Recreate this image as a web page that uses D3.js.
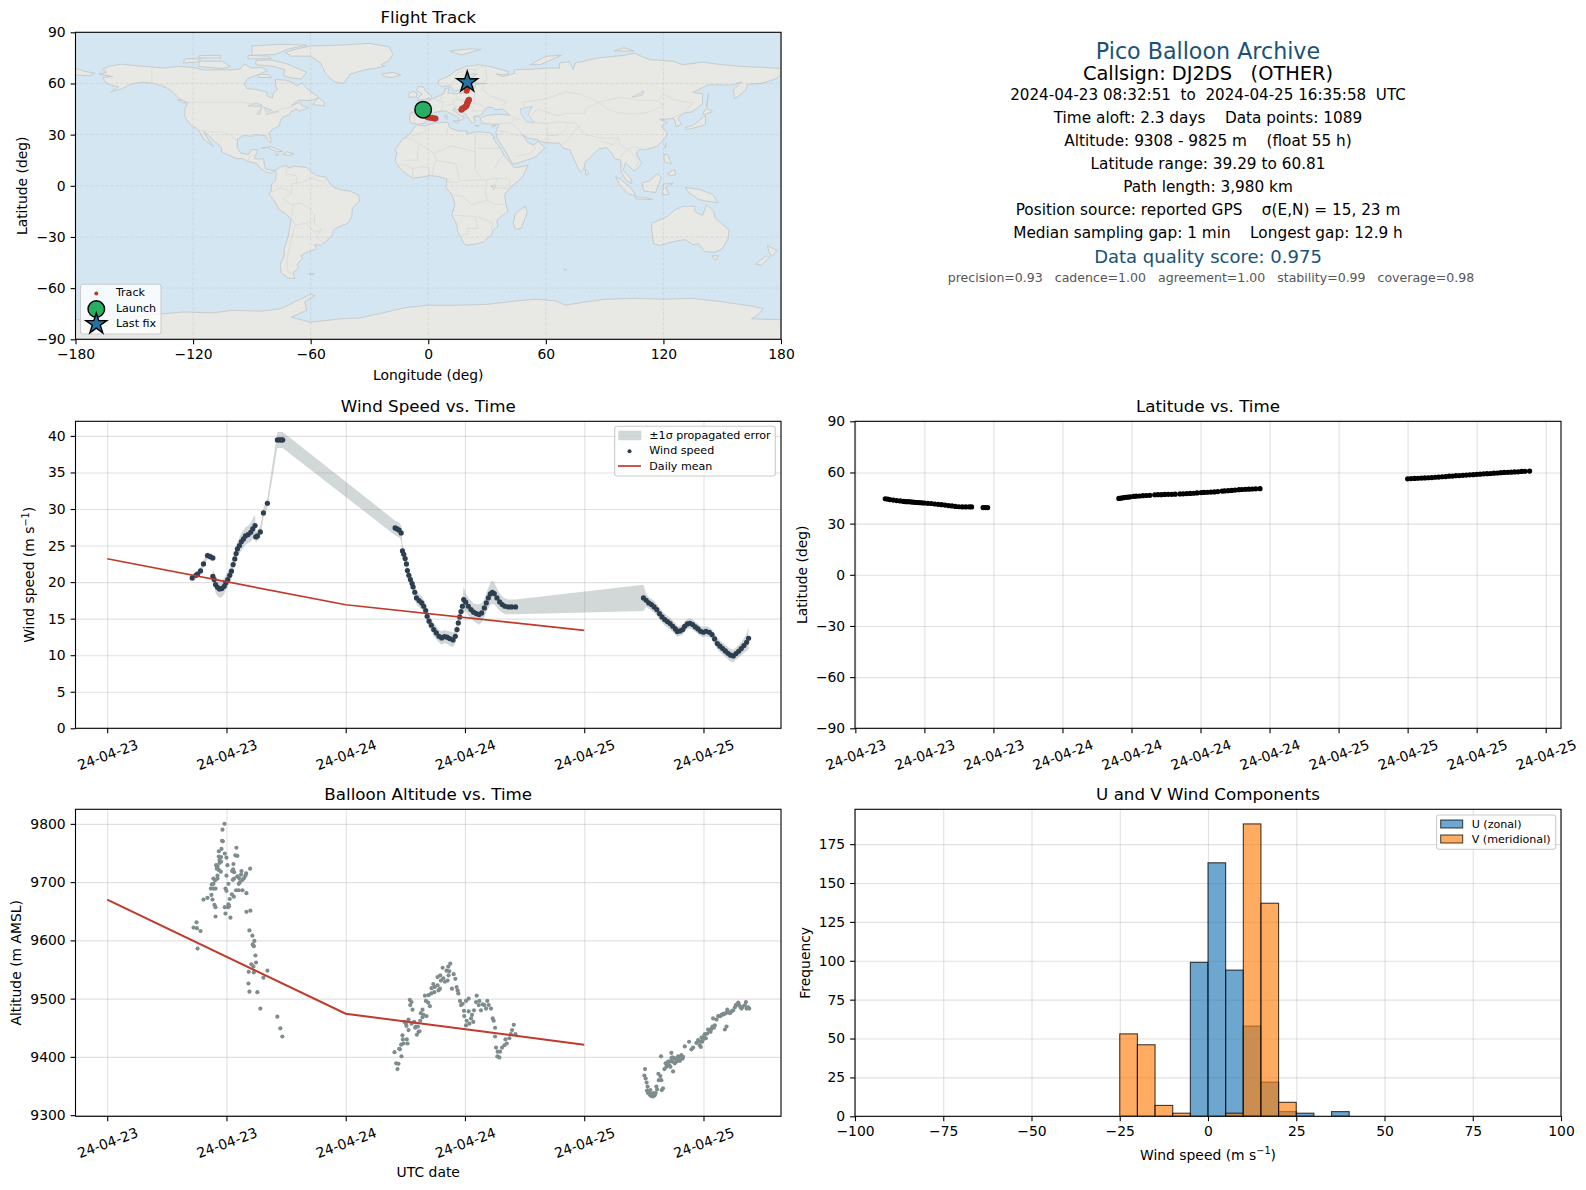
<!DOCTYPE html>
<html>
<head>
<meta charset="utf-8">
<script src="https://cdn.jsdelivr.net/npm/d3@7"></script>
<style>
  html, body { margin: 0; padding: 0; background: #fff; }
  svg { display: block; }
  text { font-family: "DejaVu Sans", sans-serif; fill: #000; }
</style>
</head>
<body>
<svg id="chart" width="1586" height="1190"></svg>
<script>
// hours are counted from 2024-04-23 00:00 UTC
const startDay = Date.UTC(2024, 3, 23);

const infoLines = [
  "Time aloft: 2.3 days    Data points: 1089",
  "Altitude: 9308 - 9825 m    (float 55 h)",
  "Latitude range: 39.29 to 60.81",
  "Path length: 3,980 km",
  "Position source: reported GPS    σ(E,N) = 15, 23 m",
  "Median sampling gap: 1 min    Longest gap: 12.9 h"
];

const meanHours = [0, 24, 48];
const meanWind = [23.2, 16.9, 13.4];
const meanAlt = [9670, 9474, 9421];

const windHours = [
  8.55,8.95,9.09,9.39,9.69,10.09,10.36,10.63,
  10.63,10.76,10.90,11.10,11.30,11.53,11.77,11.93,12.13,12.33,12.50,12.67,12.84,12.97,13.10,13.31,13.51,13.71,13.91,14.18,14.44,14.64,14.88,
  14.95,15.11,15.41,15.72,16.12,17.12,17.32,17.52,17.66,
  28.97,29.17,29.38,29.58,
  29.71,29.84,29.98,30.11,30.21,30.35,30.51,30.68,30.78,30.95,31.12,31.38,31.65,31.85,32.05,32.19,32.39,32.62,32.86,33.12,33.39,33.66,33.93,34.2,34.46,34.8,35.03,35.2,35.33,35.47,35.6,35.74,35.87,
  36.07,36.34,36.61,36.87,37.14,37.41,37.68,37.95,38.15,38.35,38.55,38.75,38.95,39.22,39.49,39.75,40.02,40.36,40.69,41.09,
  53.96,54.23,54.49,54.76,55.03,55.3,55.57,55.83,56.1,56.37,56.64,56.91,57.17,57.37,57.64,57.91,58.11,58.38,58.65,58.91,59.18,59.45,59.72,59.99,60.25,60.59,60.86,61.12,61.39,61.66,61.93,62.2,62.46,62.73,63.0,63.27,63.54,63.8,64.07,64.34,64.54
];
const windSpeed = [
  20.57,20.94,21.08,21.53,22.49,23.63,23.49,23.31,
  20.8,20.35,19.66,19.3,19.07,19.12,19.43,19.89,20.35,20.94,21.49,22.4,23.17,23.9,24.54,25,25.54,25.91,26.32,26.5,26.82,27.28,27.73,
  26.18,26.32,26.87,29.47,30.79,39.45,39.45,39.45,39.45,
  27.41,27.28,27.1,26.73,
  24.27,23.81,23.22,22.49,21.58,20.94,20.35,19.8,19.34,18.61,17.84,17.47,17.15,16.7,16.11,15.33,14.65,14.1,13.51,13.05,12.59,12.37,12.55,12.46,12.28,12.09,12.59,13.51,14.42,15.24,15.97,16.7,17.61,
  17.25,16.7,16.24,15.88,15.7,15.56,15.79,16.47,17.15,17.84,18.39,18.61,18.43,17.84,17.29,16.93,16.7,16.61,16.61,16.61,
  17.84,17.52,17.15,16.93,16.61,16.24,15.7,15.24,14.87,14.6,14.33,13.96,13.6,13.23,13.32,13.51,13.96,14.28,14.37,14.19,13.87,13.6,13.28,13.14,13.28,13.14,12.82,12.23,11.59,11.23,10.91,10.59,10.27,10.0,9.9,10.22,10.54,10.91,11.32,11.77,12.32
];
const windSigma = [
  .5,.5,.5,.5,.5,.5,.5,.5,
  .9,1,1.1,1.2,1.2,1.2,1.1,1,1,1,1,1,1,1,1,1.1,1.2,1.2,1.2,1.2,1.3,1.4,1.5,
  .8,.7,.8,.7,.7,1.1,1.1,1.1,1.1,
  1,1,1,1.1,
  .9,.9,.9,.9,.9,.9,.9,.9,.9,.9,.9,.9,.9,.9,.9,.9,.9,.9,.9,.9,.9,.9,.9,.9,1,1,.9,.8,.8,.8,.9,1.1,1.8,
  1.2,1.2,1.2,1.2,1.3,1.4,1.3,1.2,1.3,1.4,1.5,1.6,1.5,1.3,1.2,1.1,1.1,1,1,1,
  1.8,.9,.8,.8,.8,.8,.8,.8,.8,.8,.8,.8,.8,.7,.7,.7,.7,.7,.7,.7,.7,.7,.7,.7,.7,.7,.7,.7,.8,.8,.8,.8,.85,.85,.85,.85,.85,.9,1,1.2,1.5
];

const latHours = [
  8.6,8.8,9.0,9.3,9.6,9.9,10.2,10.4,10.6,10.8,11.0,11.2,11.4,11.6,11.8,12.0,12.3,12.6,12.9,13.2,13.5,13.8,14.1,14.4,14.7,15.0,15.3,15.6,15.9,16.1,17.1,17.3,17.5,
  28.9,29.09,29.3,29.5,29.7,29.9,30.19,30.4,30.7,31.0,31.3,31.6,32.02,32.3,32.6,32.9,33.2,33.5,33.8,34.22,34.5,34.8,35.1,35.4,35.7,36.05,36.3,36.6,36.9,37.2,37.5,37.88,38.1,38.4,38.7,39.0,39.34,39.6,39.9,40.2,40.5,40.8,41.17,
  54.0,54.3,54.6,54.9,55.2,55.5,55.8,56.1,56.4,56.7,57.0,57.3,57.6,57.9,58.2,58.5,58.8,59.1,59.4,59.7,60.0,60.3,60.6,60.9,61.2,61.5,61.8,62.1,62.4,62.7,63.0,63.3,63.6,63.9,64.2,64.6
];
const latValues = [
  44.6,44.4,44.1,43.8,43.5,43.3,43.0,42.9,42.9,42.8,42.6,42.5,42.4,42.3,42.2,42.1,41.9,41.8,41.5,41.3,41.1,40.9,40.6,40.4,40.1,39.9,39.8,39.8,39.8,39.8,39.4,39.4,39.4,
  44.8,44.9,45.2,45.4,45.5,45.7,46.0,46.1,46.2,46.4,46.5,46.6,46.9,47.0,47.0,47.1,47.2,47.2,47.3,47.4,47.5,47.6,47.7,47.8,48.0,48.2,48.3,48.4,48.5,48.6,48.8,49.1,49.2,49.3,49.5,49.7,49.9,50.0,50.1,50.2,50.3,50.4,50.5,
  56.3,56.4,56.5,56.6,56.7,56.8,56.9,57.0,57.2,57.3,57.5,57.6,57.8,57.9,58.1,58.2,58.3,58.5,58.6,58.7,58.9,59.0,59.2,59.3,59.4,59.6,59.7,59.9,60.0,60.1,60.2,60.3,60.4,60.6,60.7,60.8
];

const altHours = [
  8.69,8.99,9.02,9.39,9.09,9.69,10.09,10.49,10.59,10.79,10.9,10.9,10.43,10.69,10.9,10.53,10.69,10.86,10.69,11.1,11.1,11.03,10.96,11.1,11.23,11.43,11.3,11.46,11.3,11.23,11.46,11.23,11.5,11.83,12.0,12.1,11.63,11.56,11.6,11.8,
  11.83,12.17,12.27,12.2,12.33,12.54,12.74,11.9,12.0,12.2,12.0,12.64,12.77,12.57,12.67,12.77,12.7,12.9,13.1,13.0,12.97,13.24,13.61,14.01,13.24,13.37,13.61,13.77,13.98,13.91,13.51,13.47,13.1,13.27,14.38,11.9,12.4,14.01,14.41,
  14.31,14.61,14.81,14.64,14.75,14.91,14.51,14.98,14.71,14.24,14.75,16.12,15.72,14.21,14.31,15.11,15.41,17.12,17.42,17.62,
  28.91,29.08,29.31,29.21,29.61,29.45,29.38,29.58,29.71,29.75,29.82,30.15,30.22,30.05,30.12,30.32,29.92,30.32,30.62,30.89,31.06,31.33,31.16,31.43,31.26,30.99,30.45,30.62,30.49,30.72,31.5,31.73,31.56,31.73,32.13,31.83,
  31.97,32.07,32.3,32.47,32.34,32.61,32.91,32.64,32.97,33.24,33.48,33.34,32.81,33.24,33.51,33.75,33.82,33.58,33.98,34.25,34.35,34.15,34.32,34.52,34.42,34.86,35.03,34.69,35.16,35.33,35.26,35.5,35.76,35.6,36.37,36.1,35.9,36.37,35.93,36.17,36.61,36.91,36.71,36.1,36.44,36.84,
  37.18,37.11,37.45,37.38,37.61,37.95,38.25,38.39,38.62,38.12,37.78,38.79,38.89,39.03,39.03,39.13,39.29,39.46,39.26,39.53,39.73,39.97,40.2,40.07,40.47,40.61,40.74,40.91,41.08,
  54.12,54.05,54.18,54.28,54.38,54.32,54.42,54.59,54.92,55.09,55.26,55.19,55.33,55.5,55.76,55.46,55.66,55.93,55.8,55.73,56.07,56.27,56.44,56.61,56.77,56.87,57.11,57.28,56.94,57.45,57.61,57.88,58.12,57.95,
  58.55,58.79,58.96,59.29,59.46,59.73,59.63,59.8,60.07,60.24,60.47,60.71,60.91,61.14,60.97,61.31,62.15,62.32,61.58,61.82,62.05,62.39,62.66,62.99,63.26,63.5,63.73,63.93,64.27,64.34,64.6,
  56.2,56.44,56.67,56.87,57.07,57.28,57.55,57.78,56.77,56.57,
  59.63,59.87,59.97,60.14,60.37,60.57,60.81,61.04,
  61.48,61.71,61.98,62.25,62.49,62.82,63.16,63.39,63.59,63.83,64.17,64.5,
  54.52,54.72,54.82,54.99,54.66
];
const altMeters = [
  9622,9631,9621,9616,9586,9670,9673,9678,9670,9661,9657,9641,9689,9689,9689,9696,9697,9703,9706,9706,9711,9723,9729,9727,9721,9718,9733,9735,9738,9744,9743,9753,9757,9749,9742,9729,9770,9771,9790,9800,
  9657,9657,9659,9662,9671,9679,9675,9689,9685,9697,9711,9704,9706,9719,9722,9717,9731,9746,9745,9759,9686,9686,9686,9681,9697,9700,9704,9707,9715,9711,9719,9713,9710,9707,9723,9646,9639,9649,9651,
  9617,9608,9599,9593,9590,9574,9559,9562,9555,9546,9545,9548,9536,9526,9512,9511,9483,9469,9449,9435,
  9408,9389,9388,9379,9401,9413,9414,9421,9437,9430,9423,9430,9423,9457,9453,9446,9460,9464,9457,9460,9452,9443,9438,9444,9452,9450,9498,9494,9489,9481,9462,9468,9475,9481,9470,9472,
  9505,9496,9493,9487,9506,9509,9511,9518,9520,9523,9517,9514,9525,9537,9540,9553,9535,9531,9529,9531,9540,9548,9555,9560,9547,9542,9534,9517,9520,9509,9514,9496,9491,9489,9500,9496,9479,9478,9470,9462,9466,9480,9472,9454,9457,9460,
  9505,9494,9496,9489,9480,9489,9496,9489,9483,9483,9490,9466,9462,9450,9435,9416,9409,9399,9401,9409,9416,9420,9423,9430,9432,9439,9446,9455,9439,
  9379,9368,9363,9356,9349,9342,9338,9335,9332,9334,9349,9338,9344,9360,9360,9371,9367,9346,9343,9401,9379,9383,9386,9392,9407,9399,9389,9396,9375,9401,9393,9397,9418,9400,
  9426,9413,9416,9424,9429,9417,9426,9433,9436,9432,9447,9443,9452,9454,9466,9464,9447,9452,9470,9472,9473,9481,9475,9480,9489,9493,9485,9486,9494,9483,9483,
  9389,9392,9383,9392,9398,9392,9398,9403,9398,9385,
  9420,9426,9430,9439,9440,9446,9448,9450,
  9470,9470,9474,9475,9477,9478,9485,9490,9489,9483,9489,9485,
  9339,9333,9336,9338,9343
];

const histEdges = [-25,-20,-15,-10,-5,0,5,10,15,20,25,30,35,40];
const histU = [0,0,0,0,99,163,94,58,22,3,2,0,3];
const histV = [53,46,7,2,0,0,2,188,137,9,0,0,0];

const trackLon = [-2.6,-2.3,-2,-1.7,-1.4,-1.1,-0.9,-0.5,0.3,1.2,2.2,3,3.7,
  16.9,17.3,17.8,18.4,19,19.5,19.7,19.9,20,20.2,20.5,20.8,
  19.6,19.7,19.9,19.9];
const trackLat = [44.6,44,43.3,42.8,42.1,41.4,40.8,40.3,40,39.9,39.8,39.5,39.4,
  44.6,45.2,45.5,45.9,46.4,47,47.6,48.2,48.8,49.3,50,50.5,
  55.7,56.8,57.4,58];
const launchFix = [-2.6, 44.6];
const lastFix = [19.9, 60.8];

// coarse coastlines, lon/lat
const land = [
  [[-168,65.5],[-164,66.5],[-166,68.5],[-162,70.3],[-156,71.3],[-150,70.5],[-141,69.7],[-135,69],[-128,70],[-120,69.5],[-115,68],[-108,68],[-100,68],[-96,68.5],[-94,71.5],[-90,69],[-85,69.5],[-82,67.5],[-87,65],[-92,63],[-94,60],[-92.5,57],[-88,56.5],[-82.5,55],[-82,52.5],[-79.5,51.5],[-79,54.5],[-77,56.5],[-78,59],[-78,62.3],[-73,62],[-70,61],[-67,58.5],[-64.5,60.3],[-61.5,56.5],[-57,53],[-56,51.5],[-60,50],[-66,50.2],[-70,47],[-65,49],[-64.5,47],[-61,46],[-64,44.5],[-66,43.7],[-67,45],[-70,43.5],[-70.5,41.7],[-74,40.5],[-75.5,38],[-76,35],[-79,33.5],[-81.3,31],[-80.2,27],[-80.5,25.2],[-82,27],[-83,29.3],[-85,29.7],[-89,30],[-90,29],[-94,29.5],[-97.3,27.5],[-97.5,22.5],[-95.5,19],[-91.5,18.5],[-90.5,21],[-87,21.5],[-88,18],[-88.7,15.8],[-84,15.8],[-83.5,12],[-83,10],[-80,9],[-78,9.3],[-79.5,7.5],[-81,7.5],[-83,8.3],[-85.5,10],[-87.5,13],[-92,14.3],[-95,16],[-98,16],[-102,18],[-105.5,20],[-105.5,22.5],[-109,26],[-112.5,30],[-114.7,31.7],[-113,28.5],[-111,25],[-109.5,23],[-112,25],[-115,28],[-116.7,31.7],[-118.5,34],[-120.7,35],[-122.5,37.5],[-124.3,40.3],[-124,46],[-122.5,48.5],[-127,51],[-130,54.5],[-133.5,57.5],[-137,58.7],[-140,60],[-146,60.8],[-152,59.5],[-156,57],[-162,55],[-158,58],[-162,59],[-165,61],[-166,63.5],[-161,64],[-168,65.5]],
  [[-73,78.2],[-68,80],[-60,82],[-45,82.5],[-30,83.5],[-20,81.5],[-18,77],[-20,73.5],[-24,71],[-22,70],[-32,68],[-40,65.5],[-43,60],[-48,61],[-52,65],[-54,69.5],[-55,72],[-60,76],[-70,76]],
  [[-80,73.7],[-72,71.5],[-67,69],[-62,66.5],[-65,62.5],[-71,63.5],[-74,65],[-73,68],[-79,70],[-88,71],[-88,73.5]],
  [[-117,70],[-105,68.7],[-101,70],[-105,73],[-117,73]],
  [[-90,76.5],[-78,77],[-72,80],[-62,82.5],[-75,83],[-90,82]],
  [[-125,72],[-118,72.5],[-116,74.5],[-124,74.5]],
  [[-92,74.5],[-80,74.5],[-82,76],[-92,76.5]],
  [[-117,75],[-106,75],[-106,76.5],[-117,76.3]],
  [[-59,47.7],[-53,46.7],[-53,49],[-56,51.5]],
  [[-87,63.5],[-80,63.5],[-81,65],[-86,65.5]],
  [[-128,50.5],[-125,50],[-123.5,48.5],[-126,49]],
  [[-85,22],[-80,23],[-74.3,20.2],[-77.5,19.9],[-82,22.5]],
  [[-74,18.5],[-72,20],[-68.5,18.7],[-71.5,17.8]],
  [[-78,18.5],[-76.3,18.2],[-77.5,17.8]],
  [[-78,9],[-75.5,11],[-72,12],[-71.5,10.5],[-68,11.5],[-62,10.7],[-60,8.5],[-57,6],[-52,5],[-50,1],[-48,-1],[-44,-2.5],[-40,-3],[-35.5,-5.5],[-35,-9],[-38.7,-13],[-39,-18],[-41,-22],[-45,-23.7],[-48.5,-26],[-48.7,-28.5],[-52,-32.5],[-54.5,-34.8],[-58,-34.5],[-57,-37],[-62,-39],[-65,-41],[-64,-42.5],[-67,-46],[-66,-48],[-69,-51],[-68,-54.5],[-71.5,-54],[-75,-51],[-75.5,-46],[-73.5,-41],[-73.5,-37],[-71.5,-30],[-70,-20],[-72,-17],[-76,-14],[-79,-8],[-81.3,-5],[-80,-2.5],[-80,1],[-78,3],[-77.5,7]],
  [[-61,-51.5],[-58,-51.5],[-59.5,-52.4]],
  [[-6,35.8],[-2,35],[3,36.8],[10,37.3],[11,34],[15,32.3],[20,32],[19.5,30.5],[25,31.7],[32,31],[34,28],[33,28],[35.5,24],[37.2,21],[38.5,18],[43,12],[44,10.5],[51,12],[48,5],[42,-1],[39,-5],[39.5,-10],[40.7,-15],[35,-20],[35.5,-24],[33,-26],[32.5,-28.5],[28,-33],[25,-34],[20,-34.8],[18.3,-34],[15,-27],[14.5,-22.5],[12,-17],[13.7,-11],[12,-5],[9,-1],[9.5,4],[5,5.5],[1,6],[-4,5],[-8,4.5],[-13,8.5],[-15,11],[-17,14.7],[-16,19],[-17,21],[-13,27.5],[-9.7,30]],
  [[49.5,-12],[50.5,-15.5],[47.5,-25],[44.5,-25.5],[43.3,-22],[44.5,-16]],
  [[-9,37],[-9.5,39],[-9,43],[-2,43.5],[-1,46],[-4.5,48.3],[-1.5,48.7],[2,51],[4,52],[8,54],[8.5,57],[10.7,57.5],[10,54.5],[14,54],[19,54.5],[21,57],[24,58],[24,59.5],[30,60],[25,60.2],[22,60.5],[21.5,63],[25,65.5],[22,65.7],[17.5,62],[17.5,60],[16.5,56.5],[13,55.5],[11,59],[7,58],[5,60],[5.5,62],[10,64],[14,67.5],[19,70],[26,71],[31,70],[41,67],[40,65],[34.5,65.5],[38,64],[44,66],[44,68],[54,68.5],[60,69],[67,69],[67,72],[72,72.8],[74,68],[75,72],[81,73.5],[87,75],[100,76.5],[105,77.7],[113,74],[125,73],[130,71],[140,72.5],[150,71],[160,70],[170,69.5],[180,68.8],[180,65],[177,62.5],[170,60],[163,59.5],[162,56],[156.5,51],[155.5,56],[160,61],[155,59],[143,59.3],[135,54.7],[140,54],[140,48],[135,43.5],[130,42.5],[127.5,39.5],[129.3,36],[126.5,34.5],[126,37.5],[125,39.7],[121.5,39],[118,39],[122,37],[119,35],[122,31],[121,28],[116.5,23],[110,21],[108,21.5],[106,19],[109,13],[107,10.5],[105,8.7],[103,11],[100.5,13.5],[99.5,9],[103.5,4],[104,1.3],[101,3],[98.5,8],[98,15],[95,16],[94,18.5],[91,22.5],[87,21.5],[82,16],[80,14],[79.5,10],[77.5,8],[73,19],[72.5,21],[69,22],[67,25],[61,25.2],[57,26],[56,27],[51,28],[48,30],[50,26.5],[51.5,25],[54,24],[56,26],[59.5,22.5],[55,17],[45,13],[43,13],[39,21],[35,28],[34.5,31.5],[36,36],[32,36.2],[27.5,36.7],[26.5,39.5],[29,41],[35,42],[41.5,41.5],[38,45],[34,44.5],[33,46],[30,46],[28,43],[26,40.7],[23,40.5],[24,38],[22.5,36.5],[19.5,41],[19,42],[13.5,45.5],[12.5,44.5],[16,41.5],[18.5,40],[16,38],[15.5,40],[10.5,43],[8,44],[3,43],[0,39.5],[-2,36.7],[-5.5,36]],
  [[-180,68.8],[-175,67],[-170,66],[-173,64.5],[-180,65]],
  [[114,-22],[122,-18],[126,-14],[130,-12],[136,-12],[136,-15],[140,-17.5],[142,-11],[145.5,-15],[146.5,-19],[150,-22.5],[153.5,-26],[153,-31],[150,-37],[146,-39],[141,-38.5],[138,-34],[135,-34.5],[131,-31.5],[124,-33],[118,-35],[115,-34],[114,-26]],
  [[145,-41],[148,-41],[147,-43.5],[145.5,-42.5]],
  [[173,-35],[178,-38],[175,-41.5],[174,-39]],
  [[172.5,-41],[174,-42],[170,-46.5],[167,-46]],
  [[131,-1],[138,-2],[145,-5],[148,-10],[142,-9],[138,-8],[133,-4]],
  [[109,1.5],[113,3],[117,7],[119,5],[117.5,0.5],[116,-4],[110,-3]],
  [[95.5,5.5],[98,4],[104,-2],[106,-6],[102,-4.5],[98,0]],
  [[105.5,-6.5],[110,-6.7],[114.5,-8],[106,-7.7]],
  [[119.5,-5.5],[120,1],[125,1.5],[121,-1],[123,-5]],
  [[120.3,18.5],[122.2,18],[124,12.8],[120.5,14]],
  [[122,7],[125.5,9.7],[126.5,6.5],[124,6]],
  [[131,34],[136,36],[140,40],[141.5,41],[141.5,36],[136,34],[132,33]],
  [[140,42],[142,45.5],[145,43.5],[141,41.8]],
  [[142,46],[143,54],[142.5,50]],
  [[120.5,23],[121.5,25],[121,22]],
  [[80,9.7],[82,7.5],[80.5,6]],
  [[-5.5,50],[1.5,51.5],[1.5,53],[-1.5,55.5],[-2,57.5],[-5,58.5],[-6,56],[-3,54],[-5,52]],
  [[-10,52],[-6,52],[-5.7,54.5],[-8,55.3],[-10,54]],
  [[-24,65.5],[-18,66.5],[-14,65],[-18.5,63.5],[-22.5,64]],
  [[11,79],[21,80.3],[27,80],[17,76.7]],
  [[52,71],[57,71],[68,76.5],[60,76]],
  [[95,79],[105,79],[100,81]],
  [[12.5,38],[15.5,38.2],[15,36.7]],
  [[8.2,41],[9.7,41],[9.5,39]],
  [[23.5,35.5],[26,35.2],[24.5,34.9]],
  [[32.5,35],[34.5,35.6],[33.5,34.6]],
  [[69,-49],[70.5,-49],[70,-49.8]],
  [[-180,-90],[-180,-78.5],[-165,-78.5],[-155,-78],[-145,-76],[-125,-74],[-110,-74.5],[-100,-73],[-85,-73.5],[-75,-72],[-68,-68],[-60,-63.5],[-58,-64.5],[-63,-68],[-62,-73],[-70,-77],[-60,-80],[-45,-78],[-35,-77.5],[-25,-75],[-12,-71.5],[0,-70],[15,-70],[30,-69.5],[45,-67.5],[55,-66.5],[65,-67.5],[70,-70],[78,-68.5],[90,-66.5],[105,-66],[120,-66.5],[135,-66],[150,-68],[165,-70.5],[171,-72],[168,-76],[165,-78],[180,-78.5],[180,-90]]
];
const lakes = [
  [[47,45],[53,46.5],[51,42],[54,37],[50,37.5],[47,43]],
  [[-92,46.8],[-88,48.5],[-85,47.5],[-85,46.5]],
  [[-87.5,42],[-85,46],[-86,42]],
  [[-84,46],[-80,44.5],[-82.5,43]],
  [[-83,41.7],[-79,42.8],[-76.5,43.7],[-79.5,43.3]],
  [[32,0],[34,0.3],[33.5,-2.5]],
  [[104,52],[110,55.5],[109,53]]
];
const borders = [
  [[-141,69.7],[-141,60],[-135,59],[-130,55]],
  [[-123,49],[-95,49],[-89,48],[-83,46],[-82.5,42],[-79,43],[-75,45],[-70,46],[-67,45]],
  [[-117,32.5],[-108,31.5],[-106,31.7],[-101,29.7],[-97.3,26]],
  [[-92,14.5],[-91,17.5],[-89,18]],
  [[-51.5,4.3],[-54,2.3],[-60,5],[-64,2],[-70,1],[-69.5,-4.3],[-74,-7.5],[-70,-11],[-65,-10],[-60,-14],[-58,-17],[-58,-22],[-54.5,-25.5],[-57.5,-30],[-53.5,-33.5]],
  [[-70,-18],[-68,-23],[-70,-32],[-72,-42],[-72,-50],[-68.5,-52.5]],
  [[-69,-11],[-69.5,-17.5]],
  [[-72,12],[-72.5,7],[-67.5,6],[-67,1.5]],
  [[-80,-3.5],[-75,-1],[-70,-4]],
  [[-68,-23],[-62.5,-22],[-58,-20]],
  [[-62.5,-22],[-58,-27],[-54.5,-26]],
  [[-8.7,27.7],[-13,27.7]],
  [[-8.7,27.7],[3,19],[12,23.5],[24,20],[24,31.5]],
  [[9,30],[10,34]],
  [[-2,35],[-1,32],[-8.7,29]],
  [[3,19],[4,15],[14,13],[15,8],[16,3],[30,3.5],[35,4.5],[41.5,4]],
  [[24,20],[24,9],[27,4.5]],
  [[25,22],[37,22]],
  [[34,10],[36,15],[38.5,18]],
  [[12,4],[9.5,2.2],[16,2]],
  [[13,-5.5],[17,-6],[22,-11],[30,-8.5],[29,-1.5],[30,3.5]],
  [[12,-17.2],[24,-18],[25,-25],[20,-25],[20,-28.5],[17,-28.8]],
  [[30,-8.5],[34,-11],[40.5,-10.7]],
  [[34,-1],[41.5,-1.7],[41.5,4]],
  [[34,-1],[35,4.5]],
  [[25,-18],[33,-22],[32,-26]],
  [[-12,15],[-5.5,15],[-5,24]],
  [[2,6],[3,12],[4,15]],
  [[-8,4.5],[-8,10],[-5,11],[0,11],[1,6]],
  [[-16,12.5],[-12,12.5],[-8,10]],
  [[-9,42],[-7,42],[-7,37]],
  [[-1.8,43.3],[3,42.5]],
  [[2.5,51],[6,49.5],[8,49],[7.5,47.5],[7,44]],
  [[7,53.5],[6,50]],
  [[14,54],[15,51],[12.5,50],[13,47.7],[9.5,47.5]],
  [[15,51],[19,49.5],[24,48],[26.5,48],[29,45.5]],
  [[13,46.5],[16.5,46.5],[22,48],[22.5,44],[28.5,43.8]],
  [[23,41],[26,41.7],[28,42]],
  [[24,54.5],[23.5,50],[24,48]],
  [[24,54.5],[21,55.3]],
  [[28,59.5],[28,56],[32,52.5],[40,49.5],[38,47]],
  [[29,69.7],[30,62],[27.5,60.5]],
  [[14,65],[18.5,68.5],[24,68],[28,70]],
  [[12,59],[13,61],[14,65]],
  [[23.5,66],[24,68]],
  [[26,36],[36,36.5],[42,37],[44.5,39.5],[41.5,41.5]],
  [[36,32],[39,32],[47,29],[48,30]],
  [[42,37],[46,33],[48,30]],
  [[44.5,39.5],[48,38.5]],
  [[61,25.2],[61,31],[61,36.5],[54,37]],
  [[61,29.5],[66,29.5],[70,33],[71.5,37],[75,37]],
  [[68,24],[71,27],[74.5,32],[78,35.5]],
  [[50,45],[48,49],[60,51],[70,55],[77,54],[87,49]],
  [[53,42],[56,45],[66,41],[71,42.5],[80,42.5],[80,45],[87,49]],
  [[54,37.5],[61,36.5],[66,37.5],[71,37]],
  [[87,49],[98,52],[107,50],[117,50],[120,47],[112,43],[105,42],[96,43],[91,45.5],[87,49]],
  [[117,50],[120,53.5],[127,50],[135,48.5],[131,43]],
  [[75,37],[80,30],[88,28],[97,28],[98,24],[101.5,21.5],[106,23],[108,21.5]],
  [[125,40],[130,42.5]],
  [[126,38],[128.5,38.5]],
  [[101.5,21.5],[98,17],[99,11]],
  [[101.5,21.5],[105,18],[107.5,14.5],[106,11]],
  [[88,26],[92,25],[94,24],[97,28]],
  [[34.5,29],[39,32]],
  [[45,17],[52,19],[55,22],[52,24.5]]
];

const red = "#c0392b", navy = "#2c3e50", slate = "#7f8c8d", titleBlue = "#1a5276";
const col1 = [75.5, 781], col2 = [855, 1561];
const row1 = [32.3, 339.3], row2 = [421.3, 728.3], row3 = [809.3, 1116.3];
const tickPx = 13.9, legendPx = 11.1, labelPx = 13.9, titlePx = 16.7;

const svg = d3.select("#chart");

function panel(col, row, xScale, yScale, xTicks, yTicks, xFmt, yFmt, title, id) {
  const g = svg.append("g");
  svg.append("clipPath").attr("id", id).append("rect")
    .attr("x", col[0]).attr("y", row[0])
    .attr("width", col[1] - col[0]).attr("height", row[1] - row[0]);
  const gridX = g.append("g").attr("transform", "translate(0," + row[1] + ")")
    .call(d3.axisBottom(xScale).tickValues(xTicks).tickSize(-(row[1] - row[0])).tickFormat(""));
  const gridY = g.append("g").attr("transform", "translate(" + col[0] + ",0)")
    .call(d3.axisLeft(yScale).tickValues(yTicks).tickSize(-(col[1] - col[0])).tickFormat(""));
  gridX.select(".domain").remove();
  gridY.select(".domain").remove();
  g.selectAll("line").attr("stroke", "#b0b0b0").attr("stroke-opacity", 0.38).attr("stroke-width", 1.1);
  const plot = g.append("g").attr("clip-path", "url(#" + id + ")");
  const top = svg.append("g").attr("class", "frame");
  return {plot, top, col, row, xScale, yScale, xTicks, yTicks, xFmt, yFmt, title};
}

function finish(p, rotate) {
  const [l, r] = p.col, [t, b] = p.row;
  const top = p.top;
  top.append("rect").attr("x", l).attr("y", t).attr("width", r - l).attr("height", b - t)
    .attr("fill", "none").attr("stroke", "#000").attr("stroke-width", 1.1);
  const ax = top.append("g").attr("transform", "translate(0," + b + ")")
    .call(d3.axisBottom(p.xScale).tickValues(p.xTicks).tickSize(4.9).tickPadding(4.9).tickFormat(p.xFmt));
  const ay = top.append("g").attr("transform", "translate(" + l + ",0)")
    .call(d3.axisLeft(p.yScale).tickValues(p.yTicks).tickSize(4.9).tickPadding(4.9).tickFormat(p.yFmt));
  ax.select(".domain").remove();
  ay.select(".domain").remove();
  top.selectAll("line").attr("stroke-width", 1.1);
  ax.selectAll("text").style("font-family", '"DejaVu Sans"').style("font-size", tickPx + "px").attr("fill", "#000");
  ay.selectAll("text").style("font-family", '"DejaVu Sans"').style("font-size", tickPx + "px").attr("fill", "#000");
  if (rotate) {
    ax.selectAll("text").attr("y", 0).attr("dy", "0.35em")
      .attr("transform", "translate(0,26.5) rotate(-20)");
  }
  top.append("text").attr("x", (l + r) / 2).attr("y", t - 9)
    .attr("text-anchor", "middle").style("font-size", titlePx + "px").text(p.title);
}

function xLabel(col, y, txt) {
  const t = svg.append("text").attr("x", (col[0] + col[1]) / 2).attr("y", y)
    .attr("text-anchor", "middle").attr("dominant-baseline", "central")
    .style("font-size", labelPx + "px");
  return addUnit(t, txt);
}
function yLabel(x, row, txt) {
  const cy = (row[0] + row[1]) / 2;
  const t = svg.append("text").attr("transform", "translate(" + x + "," + cy + ") rotate(-90)")
    .attr("text-anchor", "middle").attr("dominant-baseline", "central")
    .style("font-size", labelPx + "px");
  return addUnit(t, txt);
}
// "m s-1" needs a raised exponent
function addUnit(t, txt) {
  const parts = txt.split("^");
  if (parts.length === 1) return t.text(txt);
  t.append("tspan").text(parts[0]);
  t.append("tspan").attr("dy", "-0.45em").style("font-size", "0.7em").text(parts[1]);
  t.append("tspan").attr("dy", "0.32em").text(")");
  return t;
}

function legendBox(x0, y0, x1, y1) {
  svg.append("rect").attr("x", x0).attr("y", y0).attr("width", x1 - x0).attr("height", y1 - y0)
    .attr("rx", 2.5).attr("fill", "#fff").attr("fill-opacity", 0.8)
    .attr("stroke", "#ccc").attr("stroke-width", 1.1);
}
function legendText(x, y, txt) {
  svg.append("text").attr("x", x).attr("y", y).attr("dominant-baseline", "central")
    .style("font-size", legendPx + "px").text(txt);
}

const dateLabel = h => d3.utcFormat("%y-%m-%d")(new Date(startDay + h * 3600e3));
const signed = d => String(d).replace("-", "−");

// ---- flight track map
const lonScale = d3.scaleLinear().domain([-180, 180]).range(col1);
const latScale = d3.scaleLinear().domain([-90, 90]).range([row1[1], row1[0]]);
const mapPanel = panel(col1, row1, lonScale, latScale, d3.range(-180, 181, 60), d3.range(-90, 91, 30),
  signed, signed, "Flight Track", "clip-map");
const geoLine = d3.line().x(d => lonScale(d[0])).y(d => latScale(d[1]));
mapPanel.plot.append("rect").attr("x", col1[0]).attr("y", row1[0])
  .attr("width", col1[1] - col1[0]).attr("height", row1[1] - row1[0]).attr("fill", "#d4e6f1");
mapPanel.plot.selectAll(".land").data(land).join("path").attr("class", "land")
  .attr("d", d => geoLine(d) + "Z").attr("fill", "#e8e8e4")
  .attr("stroke", "#c3c8c9").attr("stroke-width", 0.9).attr("stroke-linejoin", "round");
mapPanel.plot.selectAll(".lake").data(lakes).join("path").attr("class", "lake")
  .attr("d", d => geoLine(d) + "Z").attr("fill", "#d4e6f1")
  .attr("stroke", "#c3c8c9").attr("stroke-width", 0.7);
mapPanel.plot.selectAll(".border").data(borders).join("path").attr("class", "border")
  .attr("d", geoLine).attr("fill", "none").attr("stroke", "#d8dad7").attr("stroke-width", 0.8);
mapPanel.plot.append("g").selectAll("line").data(d3.range(-120, 121, 60)).join("line")
  .attr("x1", d => lonScale(d)).attr("x2", d => lonScale(d)).attr("y1", row1[0]).attr("y2", row1[1])
  .attr("stroke", "#8a9499").attr("stroke-opacity", 0.25).attr("stroke-width", 0.7).attr("stroke-dasharray", "3,2");
mapPanel.plot.append("g").selectAll("line").data(d3.range(-60, 61, 30)).join("line")
  .attr("x1", col1[0]).attr("x2", col1[1]).attr("y1", d => latScale(d)).attr("y2", d => latScale(d))
  .attr("stroke", "#8a9499").attr("stroke-opacity", 0.25).attr("stroke-width", 0.7).attr("stroke-dasharray", "3,2");
mapPanel.plot.selectAll(".trk").data(trackLon).join("circle").attr("class", "trk")
  .attr("cx", d => lonScale(d)).attr("cy", (d, i) => latScale(trackLat[i])).attr("r", 3).attr("fill", red);
mapPanel.plot.append("circle").attr("cx", lonScale(launchFix[0])).attr("cy", latScale(launchFix[1])).attr("r", 8.3)
  .attr("fill", "#27ae60").attr("stroke", "#000").attr("stroke-width", 1.4);
const star = d3.symbol().type(d3.symbolStar).size(136);
mapPanel.plot.append("path").attr("d", star).attr("transform", "translate(" + lonScale(lastFix[0]) + "," + latScale(lastFix[1]) + ")")
  .attr("fill", "#2471a3").attr("stroke", "#000").attr("stroke-width", 1.4);
finish(mapPanel, false);
xLabel(col1, 374.5, "Longitude (deg)");
yLabel(22, row1, "Latitude (deg)");

legendBox(80.5, 284.3, 161, 334);
svg.append("circle").attr("cx", 96.3).attr("cy", 293.5).attr("r", 2).attr("fill", red);
legendText(115.9, 292.3, "Track");
svg.append("circle").attr("cx", 96.3).attr("cy", 309).attr("r", 8.3).attr("fill", "#27ae60").attr("stroke", "#000").attr("stroke-width", 1.4);
legendText(115.9, 308, "Launch");
svg.append("path").attr("d", star).attr("transform", "translate(96.3,324)").attr("fill", "#2471a3").attr("stroke", "#000").attr("stroke-width", 1.4);
legendText(115.9, 323, "Last fix");

// ---- info text panel
const infoX = (col2[0] + col2[1]) / 2;
function infoText(x, y, size, txt, color) {
  svg.append("text").attr("x", x).attr("y", y).attr("text-anchor", "middle").attr("dominant-baseline", "central")
    .style("font-size", size + "px").style("fill", color).style("white-space", "pre").text(txt);
}
infoText(infoX, 50.5, 22.2, "Pico Balloon Archive", titleBlue);
infoText(infoX, 73.5, 19.4, "Callsign: DJ2DS   (OTHER)", "#000");
infoText(infoX, 94.5, 15.15, "2024-04-23 08:32:51  to  2024-04-25 16:35:58  UTC", "#000");
infoLines.forEach((d, i) => infoText(infoX, 117.6 + i * 23, 15.3, d, "#000"));
infoText(infoX, 256.8, 18, "Data quality score: 0.975", titleBlue);
infoText(infoX + 3, 277, 12.55, "precision=0.93   cadence=1.00   agreement=1.00   stability=0.99   coverage=0.98", "#555");

// ---- wind speed
const hourX1 = d3.scaleLinear().domain([-3.19, 67.8]).range(col1);
const windY = d3.scaleLinear().domain([0, 42]).range([row2[1], row2[0]]);
const dayTicks = d3.range(0, 61, 12);
const windPanel = panel(col1, row2, hourX1, windY, dayTicks, d3.range(0, 41, 5), dateLabel, d => d, "Wind Speed vs. Time", "clip-wind");
const windIdx = d3.range(windHours.length);
windPanel.plot.append("path").datum(windIdx)
  .attr("d", d3.area().x(i => hourX1(windHours[i])).y0(i => windY(windSpeed[i] - windSigma[i])).y1(i => windY(windSpeed[i] + windSigma[i])))
  .attr("fill", slate).attr("fill-opacity", 0.35);
windPanel.plot.selectAll(".wdot").data(windIdx).join("circle").attr("class", "wdot")
  .attr("cx", i => hourX1(windHours[i])).attr("cy", i => windY(windSpeed[i])).attr("r", 2.6).attr("fill", navy);
windPanel.plot.append("path").datum(meanHours)
  .attr("d", d3.line().x(d => hourX1(d)).y((d, i) => windY(meanWind[i])))
  .attr("fill", "none").attr("stroke", red).attr("stroke-width", 1.7);
finish(windPanel, true);
yLabel(29, row2, "Wind speed (m s^−1");

legendBox(614.7, 426.3, 775.3, 476);
svg.append("rect").attr("x", 618.3).attr("y", 430.7).attr("width", 23).attr("height", 9.5).attr("fill", slate).attr("fill-opacity", 0.35);
legendText(649.3, 435.3, "±1σ propagated error");
svg.append("circle").attr("cx", 629.5).attr("cy", 451.3).attr("r", 2).attr("fill", navy);
legendText(649.3, 450.3, "Wind speed");
svg.append("line").attr("x1", 618).attr("x2", 641).attr("y1", 466).attr("y2", 466).attr("stroke", red).attr("stroke-width", 1.7);
legendText(649.3, 466, "Daily mean");

// ---- latitude
const hourX2 = d3.scaleLinear().domain([5.97, 67.33]).range(col2);
const latY = d3.scaleLinear().domain([-90, 90]).range([row2[1], row2[0]]);
const sixHourTicks = d3.range(6, 67, 6);
const latPanel = panel(col2, row2, hourX2, latY, sixHourTicks, d3.range(-90, 91, 30), dateLabel,
  signed, "Latitude vs. Time", "clip-lat");
latPanel.plot.selectAll(".ldot").data(latHours).join("circle").attr("class", "ldot")
  .attr("cx", d => hourX2(d)).attr("cy", (d, i) => latY(latValues[i])).attr("r", 2.6).attr("fill", "#000");
finish(latPanel, true);
yLabel(802, row2, "Latitude (deg)");

// ---- altitude
const altY = d3.scaleLinear().domain([9298, 9825]).range([row3[1], row3[0]]);
const altPanel = panel(col1, row3, hourX1, altY, dayTicks, d3.range(9300, 9801, 100), dateLabel, d => d, "Balloon Altitude vs. Time", "clip-alt");
altPanel.plot.selectAll(".adot").data(altHours).join("circle").attr("class", "adot")
  .attr("cx", d => hourX1(d)).attr("cy", (d, i) => altY(altMeters[i])).attr("r", 2.1).attr("fill", slate);
altPanel.plot.append("path").datum(meanHours)
  .attr("d", d3.line().x(d => hourX1(d)).y((d, i) => altY(meanAlt[i])))
  .attr("fill", "none").attr("stroke", red).attr("stroke-width", 2);
finish(altPanel, true);
xLabel(col1, 1171.5, "UTC date");
yLabel(15.5, row3, "Altitude (m AMSL)");

// ---- U and V histogram
const speedX = d3.scaleLinear().domain([-100, 100]).range(col2);
const freqY = d3.scaleLinear().domain([0, 197.4]).range([row3[1], row3[0]]);
const histPanel = panel(col2, row3, speedX, freqY, d3.range(-100, 101, 25), d3.range(0, 176, 25),
  signed, d => d, "U and V Wind Components", "clip-hist");
function drawBars(values, color) {
  const g = histPanel.plot.append("g");
  values.forEach((v, i) => {
    if (v === 0) return;
    g.append("rect").attr("x", speedX(histEdges[i])).attr("width", speedX(histEdges[i + 1]) - speedX(histEdges[i]))
      .attr("y", freqY(v)).attr("height", freqY(0) - freqY(v))
      .attr("fill", color).attr("fill-opacity", 0.65)
      .attr("stroke", "#000").attr("stroke-opacity", 0.75).attr("stroke-width", 1.1);
  });
}
drawBars(histU, "#1f77b4");
drawBars(histV, "#ff7f0e");
finish(histPanel, false);
xLabel(col2, 1154.5, "Wind speed (m s^−1");
yLabel(805, row3, "Frequency");

legendBox(1436.6, 815, 1555.7, 849.3);
svg.append("rect").attr("x", 1440.7).attr("y", 820).attr("width", 22).attr("height", 8).attr("fill", "#1f77b4").attr("fill-opacity", 0.65).attr("stroke", "#000").attr("stroke-opacity", 0.75);
legendText(1471.7, 824.3, "U (zonal)");
svg.append("rect").attr("x", 1440.7).attr("y", 835).attr("width", 22).attr("height", 8).attr("fill", "#ff7f0e").attr("fill-opacity", 0.65).attr("stroke", "#000").attr("stroke-opacity", 0.75);
legendText(1471.7, 839, "V (meridional)");
</script>
</body>
</html>
